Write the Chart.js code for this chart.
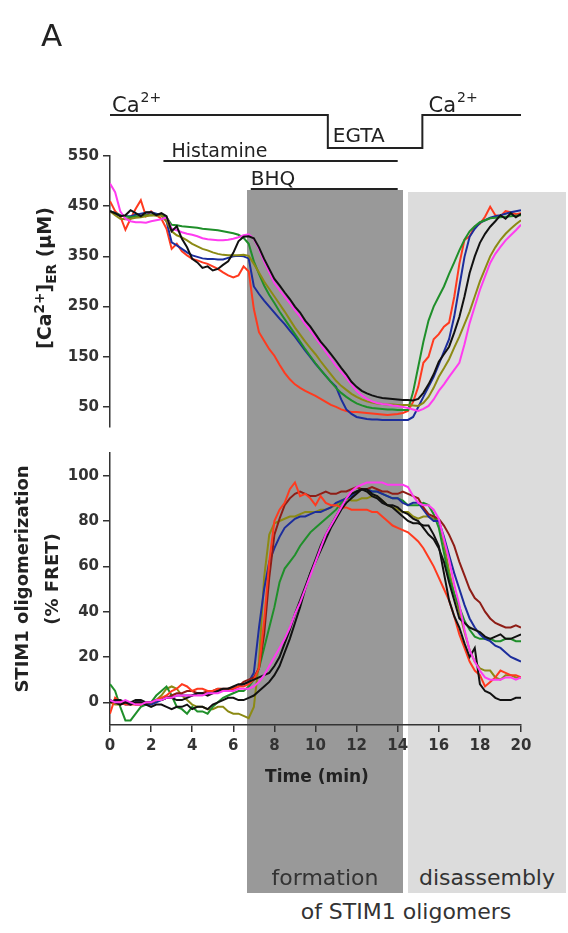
<!DOCTYPE html>
<html>
<head>
<meta charset="utf-8">
<script src="https://cdn.jsdelivr.net/npm/chart.js@4.4.1/dist/chart.umd.min.js"></script>
<style>
  body { margin: 0; background: #fff; }
  #page { position: relative; width: 568px; height: 933px; overflow: hidden; font-family: "DejaVu Sans", sans-serif; color: #222; }
  .box { position: absolute; }
  canvas { position: absolute; left: 0; }
  .lbl { position: absolute; white-space: nowrap; line-height: 1; }
  .ctr { transform: translateX(-50%); }
  .rot { position: absolute; white-space: nowrap; line-height: 1; font-weight: bold; transform: translate(-50%, -50%) rotate(-90deg); }
  .rot sup, .rot sub { font-size: 0.72em; }
</style>
</head>
<body>
<div id="page">
  <div class="box" style="left:247px;top:190px;width:156px;height:703px;background:#999"></div>
  <div class="box" style="left:408px;top:192px;width:158px;height:701px;background:#dcdcdc"></div>
  <canvas id="topChart" width="568" height="440" style="top:0"></canvas>
  <canvas id="bottomChart" width="568" height="340" style="top:440px"></canvas>

  <div class="lbl" style="left:41px;top:20px;font-size:31px">A</div>
  <div class="rot" style="left:46px;top:278px;font-size:19px">[Ca<sup>2+</sup>]<sub>ER</sub> (μM)</div>
  <div class="rot" style="left:22px;top:579px;font-size:18px">STIM1 oligomerization</div>
  <div class="rot" style="left:52px;top:579px;font-size:18px">(% FRET)</div>
  <div class="lbl ctr" style="left:317px;top:768px;font-size:17px;font-weight:bold">Time (min)</div>
  <div class="lbl ctr" style="left:325px;top:867px;font-size:22px;color:#333">formation</div>
  <div class="lbl ctr" style="left:487px;top:867px;font-size:22px;color:#333">disassembly</div>
  <div class="lbl ctr" style="left:406px;top:901px;font-size:22px;color:#333">of STIM1 oligomers</div>
</div>
<script>
// sampled every 0.25 min, 0..20
const time = Array.from({ length: 81 }, (_, i) => i / 4);
const timeTicks = [0, 2, 4, 6, 8, 10, 12, 14, 16, 18, 20];

// [Ca2+]ER (uM), one row per minute
const caBlack = [
  440, 436, 430, 432,  442, 436, 430, 438,  438, 432, 436, 430,  400, 410, 385, 368,
  345, 338, 327, 330,  322, 325, 333, 340,  357, 380, 389, 390,  386, 368, 345, 325,
  305, 292, 278, 265,  250, 238, 222, 210,  195, 180, 168, 155,  142, 128, 115, 100,
  90, 82, 77, 73,      70, 68, 67, 66,      65, 64, 64, 63,      66, 78, 95, 115,
  140, 155, 170, 198,  229, 270, 317, 350,  377, 395, 409, 420,  432, 425, 436, 428,
  435];
const caMagenta = [
  495, 478, 440, 425,  420, 418, 418, 417,  420, 422, 424, 428,  405, 402, 398, 395,
  393, 390, 386, 384,  383, 382, 382, 383,  385, 388, 392, 394,  385, 365, 340, 318,
  297, 283, 270, 257,  243, 230, 215, 202,  188, 174, 160, 146,  132, 120, 108, 95,
  82, 73, 66, 61,      58, 56, 55, 53,      52, 50, 48, 45,      42, 46, 52, 65,
  82, 95, 110, 124,    138, 175, 217, 250,  283, 310, 337, 355,  369, 382, 392, 402,
  413];
const caOlive = [
  440, 432, 425, 424,  425, 427, 428, 430,  432, 431, 432, 420,  400, 392, 388, 382,
  375, 370, 365, 362,  358, 355, 353, 352,  352, 352, 353, 351,  335, 318, 300, 285,
  270, 255, 240, 224,  208, 194, 180, 167,  155, 141, 128, 115,  102, 92, 84, 76,
  70, 65, 61, 59,      57, 56, 55, 55,      54, 54, 54, 53,      52, 58, 70, 88,
  110, 127, 145, 168,  190, 215, 240, 270,  300, 325, 350, 368,  383, 395, 405, 414,
  422];
const caGreen = [
  440, 436, 432, 430,  428, 430, 430, 432,  432, 433, 432, 428,  413, 412, 410, 409,
  408, 407, 405, 404,  403, 402, 400, 398,  396, 393, 387, 375,  340, 315, 292, 273,
  257, 240, 225, 210,  195, 180, 165, 151,  137, 124, 112, 100,  88, 78, 70, 63,
  57, 53, 50, 48,      47, 46, 45, 45,      44, 44, 44, 80,      130, 180, 222, 250,
  270, 290, 315, 338,  362, 383, 400, 410,  418, 422, 426, 427,  428, 429, 430, 431,
  432];
const caBlue = [
  440, 436, 432, 430,  430, 433, 435, 437,  438, 435, 432, 420,  378, 372, 365, 358,
  352, 349, 346, 345,  345, 344, 344, 347,  350, 351, 350, 346,  290, 275, 262, 250,
  238, 226, 215, 202,  190, 176, 162, 149,  136, 124, 112, 100,  90, 65, 45, 36,
  30, 28, 26, 25,      25, 24, 24, 24,      24, 24, 24, 30,      50, 70, 90, 110,
  135, 160, 185, 230,  290, 349, 389, 405,  417, 422, 427, 430,  432, 435, 438, 440,
  442];
const caRed = [
  460, 440, 430, 403,  425, 445, 462, 430,  440, 432, 425, 405,  365, 375, 360, 352,
  345, 342, 338, 335,  330, 325, 318, 312,  308, 312, 330, 320,  245, 199, 182, 165,
  152, 134, 118, 105,  95, 88, 82, 77,      72, 66, 60, 54,      50, 45, 42, 40,
  40, 39, 38, 37,      36, 35, 34, 35,      36, 38, 42, 60,      90, 138, 150, 185,
  195, 210, 218, 269,  335, 383, 390, 409,  415, 429, 449, 432,  430, 440, 438, 434,
  436];
const caTicks = [50, 150, 250, 350, 450, 550];

// STIM1 oligomerization (% FRET), one row per minute
const fretMagenta = [
  1, 0, 0, 1,     0, -1, -1, 0,   0, 1, 1, 2,     2, 3, 3, 3,     3, 3, 3, 4,
  4, 4, 5, 5,     5, 6, 6, 6,     7, 9, 12, 16,   20, 24, 28, 33,  39, 44, 50, 56,
  62, 68, 74, 78,  82, 86, 90, 93,  95, 96, 97, 97,  97, 97, 96, 96,  96, 96, 95, 91,
  88, 87, 87, 85,  81, 72, 63, 52,  43, 32, 23, 18,  14, 11, 10, 10,  10, 11, 11, 10,
  11];
const fretBlack1 = [
  1, 0, -1, 0,    0, 1, 1, 0,     0, 1, 1, 2,     2, 1, 1, 2,     3, 4, 4, 3,
  4, 5, 6, 6,     7, 8, 8, 9,     10, 11, 12, 13,  16, 20, 26, 32,  39, 45, 51, 57,
  62, 67, 72, 77,  81, 85, 88, 90,  92, 94, 93, 91,  90, 88, 87, 87,  86, 84, 83, 81,
  80, 77, 74, 72,  68, 62, 53, 45,  37, 35, 33, 32,  31, 29, 28, 29,  30, 28, 28, 29,
  30];
const fretBlack2 = [
  0, 1, 1, 0,     -1, 0, 0, -1,   -2, -1, -1, -2,  -3, -2, -2, -1,  -3, -2, -2, -3,
  -1, 0, 1, 2,    2, 1, 1, 2,     3, 5, 7, 9,     12, 16, 22, 28,  35, 42, 50, 57,
  63, 69, 74, 78,  82, 86, 90, 92,  93, 94, 94, 92,  91, 89, 87, 86,  84, 82, 80, 79,
  79, 78, 78, 74,  69, 57, 45, 38,  33, 26, 20, 24,  8, 5, 4, 2,      1, 1, 1, 2,
  2];
const fretRed = [
  -5, 2, 0, -1,   -1, -1, -1, 0,  0, 1, 2, 3,     5, 6, 8, 7,     5, 6, 6, 5,
  5, 6, 5, 6,     6, 7, 7, 8,     10, 15, 36, 62,  80, 85, 88, 94,  97, 91, 92, 90,
  87, 91, 88, 87,  87, 86, 86, 85,  85, 85, 85, 84,  84, 82, 80, 78,  77, 76, 75, 73,
  71, 68, 64, 60,  55, 50, 45, 38,  30, 24, 18, 14,  12, 7, 9, 11,    14, 13, 12, 12,
  11];
const fretBrown = [
  0, 0, -1, 0,    0, -1, -1, 0,   0, 1, 1, 2,     3, 4, 4, 5,     5, 4, 4, 5,
  5, 6, 6, 6,     6, 7, 9, 10,    11, 15, 30, 55,  74, 81, 87, 90,  92, 93, 92, 91,
  91, 92, 93, 92,  92, 93, 93, 94,  95, 94, 94, 95,  94, 93, 93, 92,  92, 93, 92, 91,
  90, 86, 83, 82,  81, 78, 74, 69,  62, 56, 50, 46,  44, 40, 37, 35,  34, 33, 33, 34,
  33];
const fretBlue = [
  1, 0, 0, -1,    -1, 0, 0, -1,   -1, 0, 1, 2,    2, 3, 3, 3,     3, 4, 4, 4,
  5, 5, 5, 6,     6, 7, 8, 9,     13, 33, 50, 62,  68, 73, 77, 79,  81, 82, 82, 83,
  84, 84, 85, 86,  88, 89, 90, 91,  93, 94, 94, 93,  93, 92, 91, 90,  90, 88, 87, 88,
  88, 85, 82, 80,  80, 73, 65, 57,  50, 43, 37, 33,  30, 28, 27, 25,  24, 22, 20, 19,
  18];
const fretGreen = [
  8, 5, -2, -8,   -8, -5, -2, -1,  0, 3, 5, 7,     3, -2, -3, -5,  -2, -4, -4, -5,
  -2, 0, 2, 3,    4, 5, 5, 7,     10, 15, 24, 33,  42, 53, 59, 62,  65, 69, 72, 75,
  77, 79, 81, 83,  85, 88, 90, 92,  93, 94, 94, 93,  93, 92, 91, 90,  90, 89, 87, 87,
  87, 88, 87, 83,  77, 66, 55, 48,  42, 36, 32, 29,  28, 28, 28, 27,  27, 28, 28, 27,
  27];
const fretOlive = [
  0, -1, -1, 0,   0, -1, -1, -1,  -1, 1, 3, 6,    7, 6, 3, 1,     -1, -2, -2, -3,
  -3, -2, -2, -4,  -5, -5, -6, -7,  -2, 18, 55, 74,  79, 80, 81, 82,  82, 83, 84, 84,
  84, 85, 85, 86,  87, 89, 90, 89,  89, 90, 90, 91,  91, 89, 87, 86,  85, 84, 84, 82,
  81, 82, 82, 81,  80, 70, 58, 48,  40, 31, 23, 18,  15, 14, 14, 11,  10, 12, 12, 11,
  11];
const fretTicks = [0, 20, 40, 60, 80, 100];

// protocol bars (min)
const caOff = 10.6, caOn = 15.2, histStart = 2.6, bhqStart = 6.85, drugEnd = 14;

const colors = {
  black: '#111111', magenta: '#ff3cf0', olive: '#8c8a14', green: '#1f8f2a',
  blue: '#1c2d9c', red: '#ff3a1f', brown: '#8e1d16'
};
const tickFont = { family: 'DejaVu Sans', size: 15, weight: 'bold' };
const axisColor = '#333';

function series(values, color) {
  return {
    data: values.map((v, i) => ({ x: time[i], y: v })),
    borderColor: color, borderWidth: 2, pointRadius: 0, tension: 0, fill: false
  };
}

function yScale(min, max, ticks) {
  return {
    min: min, max: max,
    afterBuildTicks: s => { s.ticks = ticks.map(v => ({ value: v })); },
    afterFit: s => { s.width = 110; },
    ticks: { font: tickFont, color: axisColor, padding: 4 },
    grid: { drawOnChartArea: false, tickLength: 7, color: axisColor, lineWidth: 1.5 },
    border: { color: axisColor, width: 1.5 }
  };
}

const protocol = {
  id: 'protocol',
  afterDraw(chart) {
    const ctx = chart.ctx;
    const px = v => chart.scales.x.getPixelForValue(v);
    ctx.save();
    ctx.strokeStyle = '#222';
    ctx.lineWidth = 2;
    ctx.beginPath();
    ctx.moveTo(px(0), 115); ctx.lineTo(px(caOff), 115); ctx.lineTo(px(caOff), 148);
    ctx.lineTo(px(caOn), 148); ctx.lineTo(px(caOn), 115); ctx.lineTo(px(20), 115);
    ctx.moveTo(px(histStart), 161); ctx.lineTo(px(drugEnd), 161);
    ctx.moveTo(px(bhqStart), 189); ctx.lineTo(px(drugEnd), 189);
    ctx.stroke();
    ctx.fillStyle = '#222';
    ctx.textBaseline = 'alphabetic';
    const caLabel = x0 => {
      ctx.font = '21px "DejaVu Sans"';
      ctx.fillText('Ca', x0, 112);
      const w = ctx.measureText('Ca').width;
      ctx.font = '14px "DejaVu Sans"';
      ctx.fillText('2+', x0 + w + 1, 102);
    };
    caLabel(px(0) + 2);
    caLabel(px(15.5));
    ctx.font = '20px "DejaVu Sans"';
    ctx.fillText('EGTA', px(caOff) + 5, 142);
    ctx.font = '19px "DejaVu Sans"';
    ctx.fillText('Histamine', px(histStart) + 8, 157);
    ctx.font = '20px "DejaVu Sans"';
    ctx.fillText('BHQ', px(bhqStart), 185);
    ctx.restore();
  }
};

new Chart(document.getElementById('topChart'), {
  type: 'line',
  data: {
    datasets: [
      series(caBlack, colors.black),
      series(caMagenta, colors.magenta),
      series(caOlive, colors.olive),
      series(caGreen, colors.green),
      series(caBlue, colors.blue),
      series(caRed, colors.red)
    ]
  },
  options: {
    responsive: false, animation: false, devicePixelRatio: 1,
    layout: { padding: { top: 156, right: 47, bottom: 13, left: 0 } },
    plugins: { legend: { display: false }, tooltip: { enabled: false } },
    scales: {
      x: { type: 'linear', min: 0, max: 20, display: false },
      y: yScale(10, 550, caTicks)
    }
  },
  plugins: [protocol]
});

new Chart(document.getElementById('bottomChart'), {
  type: 'line',
  data: {
    datasets: [
      series(fretMagenta, colors.magenta),
      series(fretBlack1, colors.black),
      series(fretBlack2, colors.black),
      series(fretRed, colors.red),
      series(fretBrown, colors.brown),
      series(fretBlue, colors.blue),
      series(fretGreen, colors.green),
      series(fretOlive, colors.olive)
    ]
  },
  options: {
    responsive: false, animation: false, devicePixelRatio: 1,
    layout: { padding: { top: 10, right: 47, bottom: 0, left: 0 } },
    plugins: { legend: { display: false }, tooltip: { enabled: false } },
    scales: {
      x: {
        type: 'linear', min: 0, max: 20,
        afterBuildTicks: s => { s.ticks = timeTicks.map(v => ({ value: v })); },
        afterFit: s => { s.height = 55; },
        ticks: { font: tickFont, color: axisColor, padding: 5, maxRotation: 0 },
        grid: { drawOnChartArea: false, tickLength: 7, color: axisColor, lineWidth: 1.5 },
        border: { color: axisColor, width: 1.5 }
      },
      y: yScale(-10, 110, fretTicks)
    }
  }
});
</script>
</body>
</html>
